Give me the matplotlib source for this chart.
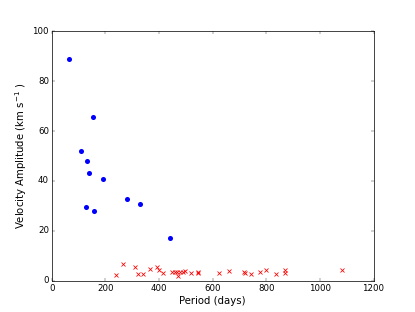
import numpy as np
import matplotlib
matplotlib.use('Agg')
import matplotlib.pyplot as plt

# large-amplitude group
period_a = [64, 109, 128, 130, 138, 155, 156, 190, 281, 328, 442]
amp_a = [88.8, 51.9, 29.4, 48.0, 43.0, 65.5, 28.0, 40.8, 32.7, 30.6, 17.0]

# small-amplitude group
period_b = [241, 265, 309, 320, 340, 366, 391, 401, 416, 450, 460, 467, 472,
            478, 488, 498, 520, 544, 546, 624, 662, 717, 720, 744, 776, 799,
            837, 868, 870, 1081]
amp_b = [2.4, 6.6, 5.6, 2.8, 2.8, 4.8, 5.5, 4.3, 3.2, 3.5, 3.5, 3.5, 1.9,
         3.5, 3.7, 3.9, 3.2, 3.6, 3.3, 3.1, 4.1, 3.5, 3.3, 2.9, 3.6, 4.3,
         2.7, 4.3, 3.3, 4.4]

plt.style.use('classic')
plt.rcParams['mathtext.fontset'] = 'dejavusans'

fig = plt.figure(figsize=(415 / 52, 6), dpi=52)
ax = fig.add_subplot(111)
ax.plot(period_a, amp_a, 'bo', markersize=7, markeredgewidth=0)
ax.plot(period_b, amp_b, 'rx', markersize=5, markeredgewidth=1.1)

ax.set_xlim(0, 1200)
ax.set_ylim(0, 100)
ax.tick_params(labelsize=12)
ax.set_xlabel('Period (days)', fontsize=14)
ax.set_ylabel(r'Velocity Amplitude (km s$^{-1}$ )', fontsize=14)

fig.savefig('out.png', dpi=52, facecolor='white')
